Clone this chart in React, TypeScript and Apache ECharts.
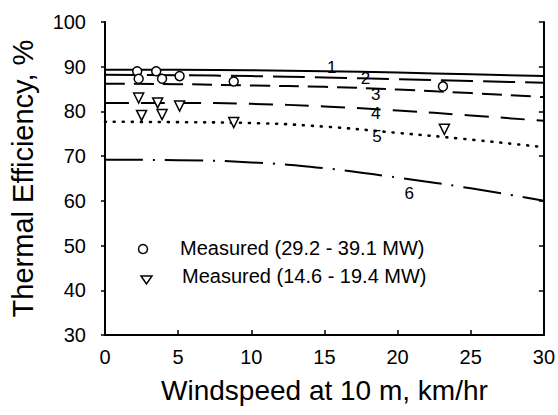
import React, { useEffect, useRef } from "react";
import * as echarts from "echarts";

const windspeeds = [0, 5, 10, 15, 20, 25, 30];
const curve1 = [89.3, 89.3, 89.2, 89.0, 88.7, 88.3, 87.9];
const curve2 = [88.2, 88.1, 87.9, 87.6, 87.2, 86.8, 86.4];
const curve3 = [86.2, 86.1, 85.8, 85.5, 84.9, 84.1, 83.2];
const curve4 = [81.9, 81.9, 81.7, 81.1, 80.2, 79.1, 77.9];
const curve5 = [77.7, 77.6, 77.4, 76.6, 75.2, 73.7, 72.0];
const curve6 = [69.2, 69.1, 68.6, 67.3, 65.2, 62.8, 60.0];

const highX = [2.2, 2.3, 3.5, 3.9, 5.1, 8.8, 23.1];
const highY = [89.0, 87.3, 89.0, 87.3, 87.9, 86.7, 85.6];
const lowX = [2.3, 2.5, 3.6, 3.9, 5.1, 8.8, 23.2];
const lowY = [83.0, 79.1, 81.9, 79.3, 81.2, 77.5, 76.0];

const curveLabels = [
  { name: "1", x: 15.5, y: 89.9 },
  { name: "2", x: 17.8, y: 87.3 },
  { name: "3", x: 18.5, y: 83.8 },
  { name: "4", x: 18.5, y: 79.6 },
  { name: "5", x: 18.6, y: 74.4 },
  { name: "6", x: 20.8, y: 61.6 },
];

const curves = [curve1, curve2, curve3, curve4, curve5, curve6];
const dashes: any[] = ["solid", [32, 10], [20, 9], [24, 12], [1, 8], [38, 10, 2, 10]];

export default function App() {
  const ref = useRef<HTMLDivElement>(null);
  useEffect(() => {
    const chart = echarts.init(ref.current!, undefined, { renderer: "svg" });
    const font = "Liberation Sans, Arial, sans-serif";
    const lineSeries = curves.map((c, i) => ({
      type: "line",
      data: windspeeds.map((x, j) => [x, c[j]]),
      smooth: true,
      showSymbol: false,
      lineStyle: {
        color: "#000",
        width: i === 4 ? 2.6 : 2,
        type: dashes[i],
        cap: i === 4 ? "round" : "butt",
      },
      z: 2,
    }));
    chart.setOption({
      animation: false,
      backgroundColor: "#fff",
      grid: { left: 105, right: 13, top: 22, bottom: 80 },
      xAxis: [
        {
          type: "value",
          min: 0,
          max: 30,
          interval: 5,
          axisLine: { lineStyle: { color: "#000", width: 2 } },
          axisTick: { inside: true, length: 5, lineStyle: { color: "#000", width: 1.5 } },
          splitLine: { show: false },
          axisLabel: { color: "#000", fontSize: 20, fontFamily: font, margin: 12 },
          name: "Windspeed at 10 m, km/hr",
          nameLocation: "middle",
          nameGap: 41,
          nameTextStyle: { color: "#000", fontSize: 28, fontFamily: font },
        },
      ],
      yAxis: [
        {
          type: "value",
          min: 30,
          max: 100,
          interval: 10,
          axisLine: { show: true, lineStyle: { color: "#000", width: 2 } },
          axisTick: { inside: false, length: 4, lineStyle: { color: "#000", width: 1.5 } },
          splitLine: { show: false },
          axisLabel: { color: "#000", fontSize: 20, fontFamily: font, margin: 19 },
          name: "Thermal Efficiency, %",
          nameLocation: "middle",
          nameGap: 68,
          nameTextStyle: { color: "#000", fontSize: 29, fontFamily: font },
        },
        {
          type: "value",
          position: "right",
          min: 30,
          max: 100,
          interval: 10,
          axisLine: { show: true, lineStyle: { color: "#000", width: 2 } },
          axisTick: { show: true, inside: true, length: 5, lineStyle: { color: "#000", width: 1.5 } },
          splitLine: { show: false },
          axisLabel: { show: false },
        },
      ],
      series: [
        ...lineSeries,
        {
          type: "scatter",
          data: highX.map((x, i) => [x, highY[i]]),
          symbol: "circle",
          symbolSize: 9,
          itemStyle: { color: "#fff", borderColor: "#000", borderWidth: 1.5, opacity: 1 },
          z: 3,
        },
        {
          type: "scatter",
          data: lowX.map((x, i) => [x, lowY[i]]),
          symbol: "triangle",
          symbolRotate: 180,
          symbolSize: 10,
          itemStyle: { color: "#fff", borderColor: "#000", borderWidth: 1.5, opacity: 1 },
          z: 3,
        },
        {
          type: "scatter",
          data: curveLabels.map((l) => ({ value: [l.x, l.y], name: l.name })),
          symbolSize: 0,
          itemStyle: { color: "#000", opacity: 1 },
          label: {
            show: true,
            position: "inside",
            formatter: (p: any) => p.name,
            color: "#000",
            opacity: 1,
            textBorderWidth: 0,
            fontSize: 17,
            fontFamily: font,
          },
          z: 4,
        },
      ],
      graphic: [
        {
          type: "circle",
          shape: { cx: 143, cy: 249, r: 4.5 },
          style: { fill: "#fff", stroke: "#000", lineWidth: 1.5 },
        },
        {
          type: "polygon",
          shape: { points: [[141, 276], [152, 276], [146.5, 284]] },
          style: { fill: "#fff", stroke: "#000", lineWidth: 1.5 },
        },
        {
          type: "text",
          x: 180,
          y: 248,
          style: {
            text: "Measured (29.2 - 39.1 MW)",
            fill: "#000",
            font: "20px Liberation Sans, Arial, sans-serif",
            verticalAlign: "middle",
          },
        },
        {
          type: "text",
          x: 182,
          y: 276,
          style: {
            text: "Measured (14.6 - 19.4 MW)",
            fill: "#000",
            font: "20px Liberation Sans, Arial, sans-serif",
            verticalAlign: "middle",
          },
        },
      ],
    });
    return () => chart.dispose();
  }, []);
  return <div ref={ref} style={{ width: 558, height: 415, position: "absolute", left: 0, top: 0 }} />;
}
